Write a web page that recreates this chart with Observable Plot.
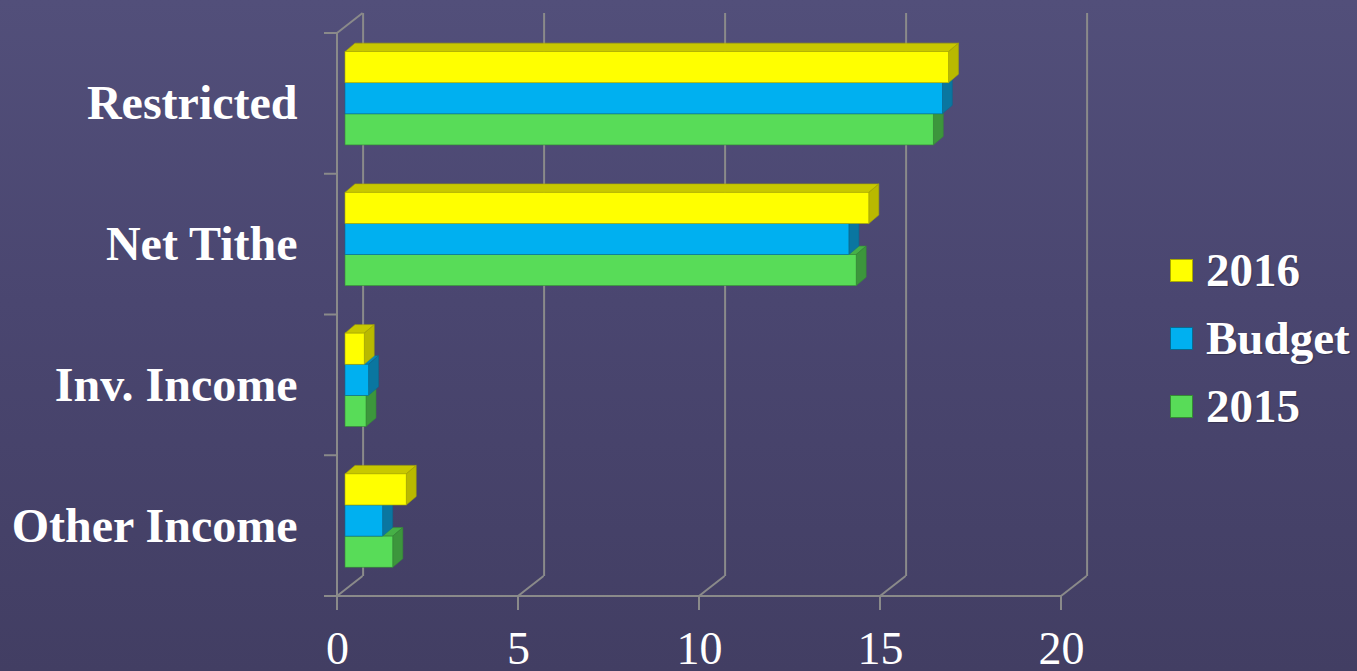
<!DOCTYPE html>
<html>
<head>
<meta charset="utf-8">
<script src="https://cdn.jsdelivr.net/npm/d3@7"></script>
<script src="https://cdn.jsdelivr.net/npm/@observablehq/plot@0.6"></script>
<style>
  html, body { margin: 0; padding: 0; }
  body {
    width: 1357px; height: 671px; overflow: hidden; position: relative;
    background: linear-gradient(to bottom, #524f7a 0%, #4a4670 45%, #423e63 100%);
    font-family: "Liberation Serif", "Times New Roman", serif;
  }
  #chart { position: absolute; left: 0; top: 0; }
  #legend { position: absolute; left: 1170px; top: 236px; color: #fff; }
  .item { display: flex; align-items: center; height: 68px; }
  .sw { width: 23px; height: 23px; margin-right: 13px; box-sizing: border-box; }
  .lab { font: bold 47px "Liberation Serif", "Times New Roman", serif; text-shadow: 1px 1px 1px rgba(0,0,0,0.25); }
</style>
</head>
<body>
<div id="chart"></div>
<div id="legend"></div>
<script>
// ---- data ----
const categories = ["Restricted", "Net Tithe", "Inv. Income", "Other Income"];
const seriesNames = ["2016", "Budget", "2015"];
const values2016 = [16.67, 14.47, 0.53, 1.69];
const valuesBudget = [16.5, 13.92, 0.65, 1.04];
const values2015 = [16.25, 14.12, 0.58, 1.32];
const xTicks = [0, 5, 10, 15, 20];
const seriesFront = ["#ffff00", "#00b0f0", "#58dc58"];
const seriesTop = ["#c8c800", "#0a86b4", "#46b046"];
const seriesSide = ["#b9b900", "#0a76a0", "#3c963c"];
const seriesEdge = ["#a8a800", "#0a6a90", "#358a35"];

// ---- layout constants (3D projection) ----
const DEPTH_X = 25.6, DEPTH_Y = -20;   // wall depth
const FRONT_X = 8, FRONT_Y = -6;        // bar front plane offset
const BAR_DX = 10, BAR_DY = -8.5;       // bar depth
const GROUP_OFF = 0.175, BAR_H = 0.221; // bars inside a category band
const gridColor = "#8a8a8a";

const seriesValues = [values2016, valuesBudget, values2015];
const rows = [];
categories.forEach((c, i) => {
  // paint bottom bar first
  for (let j = seriesNames.length - 1; j >= 0; --j) {
    rows.push({
      category: c, series: seriesNames[j], j, value: seriesValues[j][i],
      y1: i + GROUP_OFF + j * BAR_H, y2: i + GROUP_OFF + (j + 1) * BAR_H
    });
  }
});

// custom mark: floor/wall diagonals and ticks, drawn with the plot's scales
const frame3d = (index, {x, y}) => {
  const g = d3.create("svg:g").attr("stroke", gridColor).attr("stroke-width", 2).attr("fill", "none");
  const yb = y(categories.length), yt = y(0);
  xTicks.forEach(v => {
    g.append("line").attr("x1", x(v)).attr("y1", yb).attr("x2", x(v) + DEPTH_X).attr("y2", yb + DEPTH_Y);
    g.append("line").attr("x1", x(v)).attr("y1", yb).attr("x2", x(v)).attr("y2", yb + 14);
  });
  g.append("line").attr("x1", x(0)).attr("y1", yt).attr("x2", x(0) + DEPTH_X).attr("y2", yt + DEPTH_Y);
  for (let k = 0; k <= categories.length; ++k) {
    g.append("line").attr("x1", x(0) - 13).attr("y1", y(k)).attr("x2", x(0)).attr("y2", y(k));
  }
  g.append("line").attr("x1", x(0) - 12).attr("y1", yb).attr("x2", x(20)).attr("y2", yb);
  g.append("line").attr("x1", x(0)).attr("y1", yt).attr("x2", x(0)).attr("y2", yb);
  return g.node();
};

// custom mark: top and side faces of the 3D bars
const faces3d = (index, {x, y}) => {
  const g = d3.create("svg:g");
  rows.forEach(r => {
    const xa = x(0) + FRONT_X, xb = x(r.value) + FRONT_X;
    const ya = y(r.y1) + FRONT_Y, yc = y(r.y2) + FRONT_Y;
    g.append("path")
      .attr("d", `M${xa},${ya}L${xb},${ya}L${xb + BAR_DX},${ya + BAR_DY}L${xa + BAR_DX},${ya + BAR_DY}Z`)
      .attr("fill", seriesTop[r.j]).attr("stroke", seriesEdge[r.j]).attr("stroke-width", 0.6);
    g.append("path")
      .attr("d", `M${xb},${ya}L${xb + BAR_DX},${ya + BAR_DY}L${xb + BAR_DX},${yc + BAR_DY}L${xb},${yc}Z`)
      .attr("fill", seriesSide[r.j]).attr("stroke", seriesEdge[r.j]).attr("stroke-width", 0.6);
  });
  return g.node();
};

const plot = Plot.plot({
  width: 1357,
  height: 671,
  marginTop: 33,
  marginBottom: 75,
  marginLeft: 337,
  marginRight: 296,
  x: { domain: [0, 20], axis: null },
  y: { domain: [0, categories.length], reverse: true, axis: null },
  style: { background: "transparent", overflow: "visible" },
  marks: [
    Plot.ruleX(xTicks, { x: d => d, y1: 0, y2: categories.length, dx: DEPTH_X, dy: DEPTH_Y, stroke: gridColor, strokeWidth: 2 }),
    frame3d,
    faces3d,
    Plot.rect(rows, {
      x1: () => 0, x2: "value", y1: "y1", y2: "y2", dx: FRONT_X, dy: FRONT_Y,
      fill: r => seriesFront[r.j], stroke: r => seriesEdge[r.j], strokeWidth: 0.6
    }),
    Plot.text(categories, {
      x: () => 0, y: (d, i) => i + 0.5, text: d => d, dx: -40, textAnchor: "end",
      fill: "white", fontSize: 48, fontWeight: "bold", fontFamily: "Liberation Serif"
    }),
    Plot.text(xTicks, {
      x: d => d, y: () => categories.length, text: d => String(d), dy: 67, lineAnchor: "bottom",
      fill: "white", fontSize: 46, fontFamily: "Liberation Serif"
    })
  ]
});
document.getElementById("chart").appendChild(plot);

// legend
const legend = document.getElementById("legend");
seriesNames.forEach((s, j) => {
  const item = document.createElement("div");
  item.className = "item";
  const sw = document.createElement("div");
  sw.className = "sw";
  sw.style.background = seriesFront[j];
  sw.style.border = `1px solid ${seriesEdge[j]}`;
  const lab = document.createElement("span");
  lab.className = "lab";
  lab.textContent = s;
  item.appendChild(sw);
  item.appendChild(lab);
  legend.appendChild(item);
});
</script>
</body>
</html>
